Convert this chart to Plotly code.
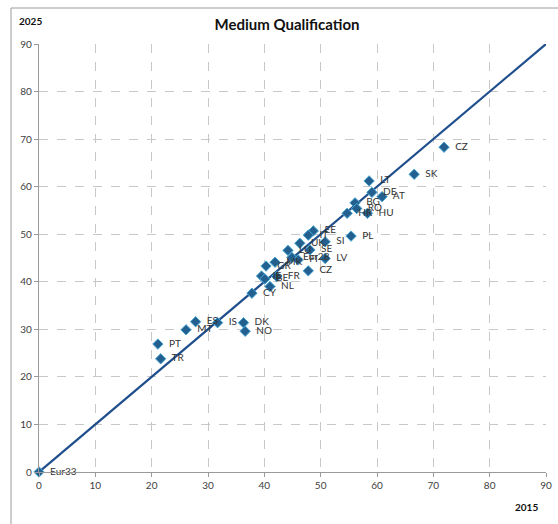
import plotly.graph_objects as go

# Share of medium-qualified, 2015 vs 2025 (%)
labels = ["CZ", "SK", "LT", "DE", "AT", "BG", "RO", "HR", "HU", "PL",
          "EE", "IT", "SI", "UK", "SE", "LV", "CZ", "LU", "Eur28", "FI",
          "MK", "GR", "IE", "BE", "FR", "NL", "CY", "PT", "TR", "MT",
          "ES", "IS", "DK", "NO", "Eur33"]
share_2015 = [71.9, 66.6, 58.6, 59.1, 60.9, 56.1, 56.4, 54.7, 58.3, 55.4,
              48.7, 47.8, 50.8, 46.3, 48.1, 50.8, 47.8, 44.2, 44.9, 46.0,
              41.9, 40.3, 39.5, 40.1, 42.2, 41.0, 37.8, 21.1, 21.6, 26.1,
              27.8, 31.7, 36.3, 36.6, 0.0]
share_2025 = [68.3, 62.6, 61.2, 58.8, 57.9, 56.6, 55.4, 54.4, 54.4, 49.6,
              50.7, 49.8, 48.4, 48.1, 46.7, 44.9, 42.3, 46.6, 45.1, 44.6,
              44.1, 43.3, 41.2, 40.6, 41.1, 39.0, 37.6, 26.9, 23.8, 29.9,
              31.6, 31.4, 31.4, 29.6, 0.0]

diag = [0, 90]
ticks = list(range(0, 91, 10))

W, H = 558, 524
ml, mr, mt, mb = 39, 12, 44, 52
FONT = "Lato, Open Sans, sans-serif"

fig = go.Figure()
fig.add_trace(go.Scatter(
    x=diag, y=diag, mode="lines",
    line=dict(color="#1f4e8c", width=2.2),
    hoverinfo="skip", showlegend=False,
))
fig.add_trace(go.Scatter(
    x=share_2015, y=share_2025, mode="markers+text",
    text=["&nbsp;&nbsp;" + s for s in labels], textposition="middle right",
    textfont=dict(family=FONT, size=10, color="#333333"),
    marker=dict(symbol="diamond", size=8, color="#23608f",
                line=dict(color="#4aa8d4", width=1)),
    cliponaxis=False, showlegend=False,
))

axis_common = dict(
    range=[0, 90], tickvals=ticks, showgrid=True,
    gridcolor="#c8c8c8", griddash="dash", gridwidth=1,
    showline=True, linecolor="#9a9a9a", linewidth=1.2,
    ticks="outside", ticklen=4, tickcolor="#9a9a9a",
    tickfont=dict(family=FONT, size=10, color="#404040"),
    zeroline=False, fixedrange=True, automargin=False,
)
fig.update_xaxes(**axis_common)
fig.update_yaxes(**axis_common)

pw = W - ml - mr
ph = H - mt - mb

def px(xp):
    return (xp - ml) / pw

def py(yp):
    return (H - mb - yp) / ph

fig.update_layout(
    width=W, height=H, autosize=False,
    margin=dict(l=ml, r=mr, t=mt, b=mb, pad=0, autoexpand=False),
    paper_bgcolor="white", plot_bgcolor="white",
    title=dict(text="<b>Medium Qualification</b>", x=287 / W, xanchor="center",
               y=1 - 25 / H, yanchor="middle",
               font=dict(family=FONT, size=15, color="#111111")),
    annotations=[
        dict(text="<b>2025</b>", xref="paper", yref="paper", x=px(17), y=py(21),
             xanchor="left", yanchor="middle", showarrow=False,
             font=dict(family=FONT, size=10, color="#111111")),
        dict(text="<b>2015</b>", xref="paper", yref="paper", x=px(540), y=py(507),
             xanchor="right", yanchor="middle", showarrow=False,
             font=dict(family=FONT, size=10, color="#111111")),
    ],
    shapes=[
        dict(type="line", xref="paper", yref="paper", x0=px(11), x1=px(11),
             y0=py(8), y1=py(530), line=dict(color="#9a9a9a", width=1)),
        dict(type="line", xref="paper", yref="paper", x0=px(11), x1=px(560),
             y0=py(8), y1=py(8), line=dict(color="#9a9a9a", width=1)),
    ],
)

fig.write_html("out.html", config={"responsive": False, "displayModeBar": False})
